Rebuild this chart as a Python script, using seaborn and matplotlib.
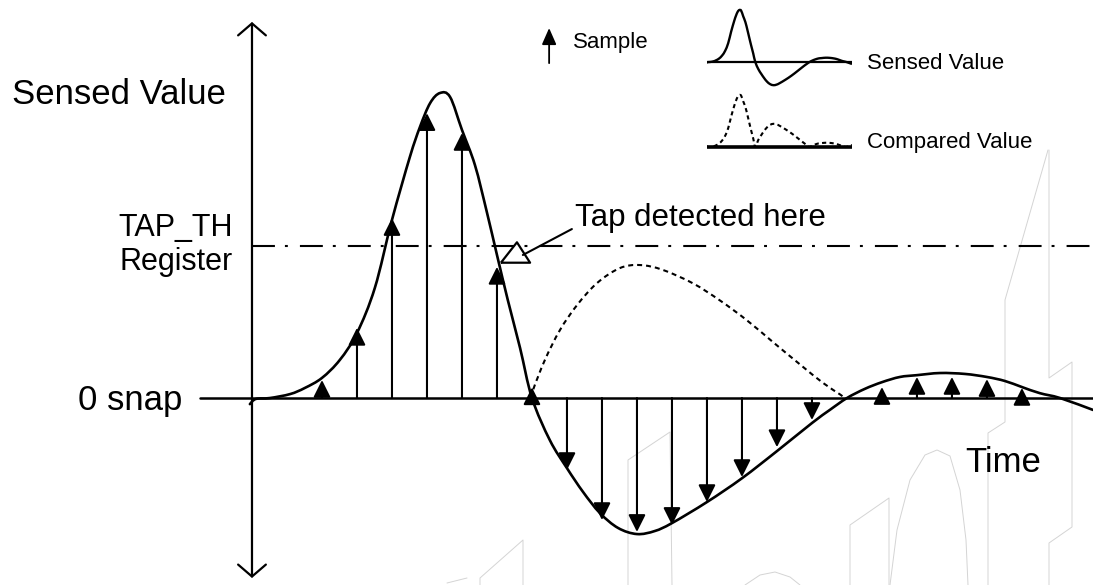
import numpy as np
import pandas as pd
import matplotlib.pyplot as plt
import seaborn as sns
from matplotlib.path import Path
from matplotlib.patches import PathPatch

# sensed value curve (time in sample periods, value with peak = 100)
sensed_t = [-0.06, 0.11, 0.51, 1.09, 1.51, 2.0, 2.51, 3.0, 3.51, 4.0, 4.51, 4.8, 5.09, 5.37,
            5.66, 6.0, 6.37, 6.71, 7.0, 7.31, 7.66, 8.0, 8.51, 9.0, 9.46, 9.94, 10.46,
            11.0, 11.51, 12.0, 13.0, 14.0, 15.0, 16.0, 16.51, 17.0, 17.51, 18.0, 18.51,
            19.0, 19.66, 20.37, 21.0, 21.51, 22.0, 22.51, 23.09, 24.03]
sensed_v = [-2.0, -0.3, 0.0, 1.3, 3.3, 6.6, 12.5, 21.3, 36.1, 58.4, 79.0, 88.9, 96.7, 100.0,
            98.7, 87.9, 76.4, 61.0, 46.9, 32.1, 16.4, 0.0, -13.8, -23.0, -30.8, -37.7,
            -42.6, -44.6, -43.6, -41.0, -34.1, -26.3, -17.4, -8.2, -3.9, 0.0, 3.0, 5.2, 6.9,
            7.5, 8.2, 7.9, 6.9, 5.6, 3.6, 1.6, 0.0, -3.9]

# compared value (rectified negative lobe)
compared_t = [8.0, 8.03, 8.37, 8.8, 9.29, 9.86, 10.51, 11.09, 11.74, 12.6, 13.37, 14.14,
              14.89, 15.66, 16.31, 16.8, 16.94]
compared_v = [0.0, 2.6, 12.5, 22.3, 30.5, 37.7, 42.6, 43.6, 42.0, 37.6, 32.0, 25.5,
              18.3, 11.0, 5.0, 1.2, 0.0]

# samples
sample_t = [2, 3, 4, 5, 6, 7, 8, 9, 10, 11, 12, 13, 14, 15, 16, 18, 19, 20, 21, 22]
sample_v = [5.9, 23.0, 59.0, 93.4, 86.9, 43.0, 3.5, -23.6, -40.0, -43.9, -41.6, -34.1,
            -25.9, -16.1, -7.2, 3.6, 6.9, 6.9, 6.2, 3.3]

threshold = 50
tap_t, tap_v = 7.51, 47.9


def smooth_path(xs, ys):
    # bezier path through every point (catmull-rom tangents), drawn by matplotlib
    p = np.column_stack([xs, ys]).astype(float)
    verts = [p[0]]
    codes = [Path.MOVETO]
    for i in range(len(p) - 1):
        p0 = p[i - 1] if i > 0 else p[i]
        p3 = p[i + 2] if i + 2 < len(p) else p[i + 1]
        c1 = p[i] + (p[i + 1] - p0) / 6
        c2 = p[i + 1] - (p3 - p[i]) / 6
        verts += [c1, c2, p[i + 1]]
        codes += [Path.CURVE4] * 3
    return Path(verts, codes)


sns.set_style("white")
plt.rcParams['font.family'] = ['Liberation Sans', 'DejaVu Sans']
plt.rcParams['text.color'] = 'black'

fig = plt.figure(figsize=(10.93, 5.85), dpi=100)

# faint watermark behind the chart (pixel space)
wm = fig.add_axes([0, 0, 1, 1])
wm.set_xlim(0, 1093)
wm.set_ylim(585, 0)
wm.axis('off')
watermark = [
    [(1048, 150), (1005, 300), (1005, 422), (988, 433), (988, 585)],
    [(1049, 150), (1049, 378), (1072, 362), (1072, 527), (1049, 543), (1049, 585)],
    [(850, 585), (850, 525), (889, 498), (889, 585)],
    [(890, 585), (897, 530), (910, 480), (925, 455), (937, 450), (950, 456), (960, 490),
     (966, 540), (968, 585)],
    [(628, 585), (628, 460), (670, 432), (672, 585)],
    [(480, 585), (480, 578), (523, 540), (523, 585)],
    [(745, 585), (760, 575), (775, 572), (790, 577), (800, 585)],
    [(447, 583), (467, 578)],
]
for line in watermark:
    xs, ys = zip(*line)
    wm.plot(xs, ys, color='#d4d4d4', lw=0.7)

ax = fig.add_axes([0, 0, 1, 1])
ax.patch.set_alpha(0)
ax.set_xlim(-7.2, 24.03)
ax.set_ylim(-61.3, 130.5)
ax.axis('off')

# vertical (value) axis with open arrowheads
ax.annotate('', xy=(0, 123.3), xytext=(0, -59.0),
            arrowprops=dict(arrowstyle='<->,head_length=0.43,head_width=0.5',
                            color='black', lw=1.6, shrinkA=0, shrinkB=0,
                            mutation_scale=20))
# 0 snap line
zero = pd.DataFrame({'t': [-1.49, 24.03], 'v': [0, 0]})
sns.lineplot(data=zero, x='t', y='v', color='black', lw=1.8, ax=ax)
# threshold
ax.plot([0, 24.03], [threshold, threshold], color='black', lw=1.5,
        linestyle=(0, (11, 4.8, 1.4, 5.8)))

ax.add_patch(PathPatch(smooth_path(sensed_t, sensed_v), fc='none', ec='black', lw=1.9,
                       capstyle='round', joinstyle='round'))
ax.add_patch(PathPatch(smooth_path(compared_t, compared_v), fc='none', ec='black', lw=1.5,
                       linestyle=(0, (2.4, 1.9))))

for t, v in zip(sample_t, sample_v):
    ax.annotate('', xy=(t, v), xytext=(t, 0),
                arrowprops=dict(arrowstyle='-|>,head_length=0.52,head_width=0.26',
                                color='black', lw=1.5, shrinkA=0, shrinkB=0,
                                mutation_scale=20))

# tap detected marker
ax.plot([tap_t], [tap_v], marker=[(-1, -0.7), (1, -0.7), (0.1, 0.7), (-1, -0.7)],
        ms=21, mfc='white', mec='black', mew=1.6, ls='none')
ax.plot([7.74, 9.14], [46.9, 55.4], color='black', lw=1.5)
ax.text(9.23, 56.4, 'Tap detected here', fontsize=22.5, va='baseline', ha='left')

# labels
ax.text(-6.86, 96.4, 'Sensed Value', fontsize=25, va='baseline', ha='left')
ax.text(-0.54, 53.1, 'TAP_TH', fontsize=22, va='baseline', ha='right')
ax.text(-0.54, 42.0, 'Register', fontsize=22, va='baseline', ha='right')
ax.text(-2.0, -3.9, '0 snap', fontsize=25, va='baseline', ha='right')
ax.text(20.37, -24.3, 'Time', fontsize=25, va='baseline', ha='left')

# legend
ax.annotate('', xy=(8.49, 121.3), xytext=(8.49, 109.8),
            arrowprops=dict(arrowstyle='-|>,head_length=0.5,head_width=0.22',
                            color='black', lw=1.3, shrinkA=0, shrinkB=0,
                            mutation_scale=20))
ax.text(9.17, 114.8, 'Sample', fontsize=16, va='baseline', ha='left')
ax.text(17.57, 107.9, 'Sensed Value', fontsize=16, va='baseline', ha='left')
ax.text(17.57, 82.0, 'Compared Value', fontsize=16, va='baseline', ha='left')

leg1 = fig.add_axes([707 / 1093, 1 - 100 / 585, 145 / 1093, 100 / 585])
leg1.set_xlim(0, 24.03)
leg1.set_ylim(-73.1, 119.2)
leg1.axis('off')
leg1.patch.set_alpha(0)
leg1.add_patch(PathPatch(smooth_path(sensed_t, sensed_v), fc='none', ec='black', lw=1.7))
leg1.plot([0, 24.03], [0, 0], color='black', lw=1.6)

leg2 = fig.add_axes([707 / 1093, 1 - 160 / 585, 145 / 1093, 70 / 585])
leg2.set_xlim(0, 24.03)
leg2.set_ylim(-25, 109.6)
leg2.axis('off')
leg2.patch.set_alpha(0)
leg2.add_patch(PathPatch(smooth_path(sensed_t, np.abs(sensed_v)), fc='none', ec='black',
                         lw=1.5, linestyle=(0, (2, 1.6))))
leg2.plot([0, 24.03], [0, 0], color='black', lw=2.6)

fig.savefig('out.png', dpi=100)
